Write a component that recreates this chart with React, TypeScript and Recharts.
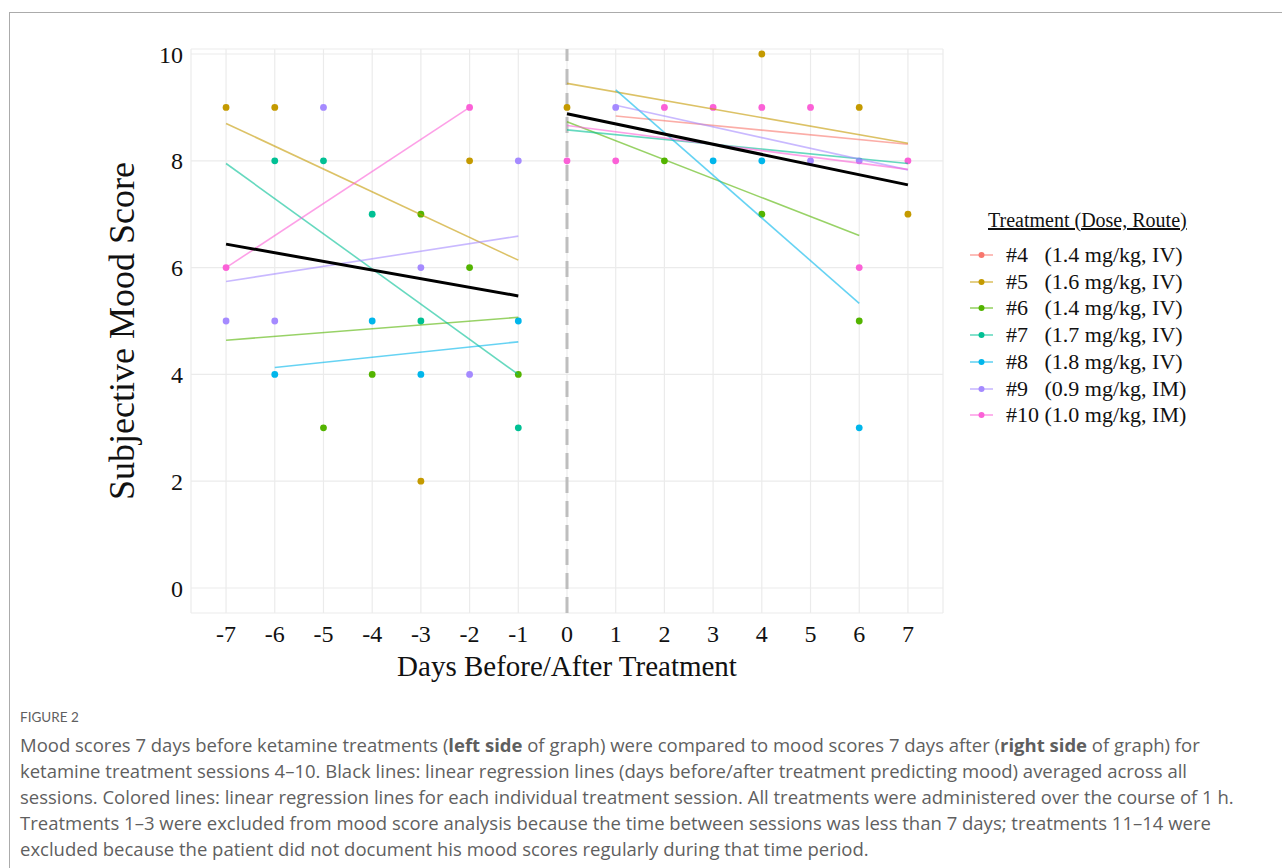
import {
  ComposedChart,
  Scatter,
  XAxis,
  YAxis,
  CartesianGrid,
  ReferenceLine,
  Legend,
  Label,
} from 'recharts';

const TREATMENTS = ['#4', '#5', '#6', '#7', '#8', '#9', '#10'];
const DOSES = [
  '(1.4 mg/kg, IV)',
  '(1.6 mg/kg, IV)',
  '(1.4 mg/kg, IV)',
  '(1.7 mg/kg, IV)',
  '(1.8 mg/kg, IV)',
  '(0.9 mg/kg, IM)',
  '(1.0 mg/kg, IM)',
];
const COLORS = ['#F8766D', '#C49A00', '#53B400', '#00C094', '#00B6EB', '#A58AFF', '#FB61D7'];

// daily mood scores, one list per treatment (before / after)
const PRE_DAYS = [[], [-7, -6, -3, -2], [-5, -4, -3, -2, -1], [-6, -5, -4, -3, -1], [-6, -4, -3, -1], [-7, -6, -5, -3, -2, -1], [-7, -2]];
const PRE_SCORES = [[], [9, 9, 2, 8], [3, 4, 7, 6, 4], [8, 8, 7, 5, 3], [4, 5, 4, 5], [5, 5, 9, 6, 4, 8], [6, 9]];
const POST_DAYS = [[], [0, 4, 6, 7], [2, 4, 6], [], [3, 4, 6], [1, 5, 6], [0, 1, 2, 3, 4, 5, 6, 7]];
const POST_SCORES = [[], [9, 10, 9, 7], [8, 7, 5], [], [8, 8, 3], [9, 8, 8], [8, 8, 9, 9, 9, 9, 6, 8]];

// regression line ends: [first day, last day] and [fitted score there]
const PRE_FIT_DAYS = [[], [-7, -1], [-7, -1], [-7, -1], [-6, -1], [-7, -1], [-7, -2]];
const PRE_FIT_SCORES = [[], [8.7, 6.14], [4.64, 5.07], [7.95, 4.0], [4.13, 4.61], [5.74, 6.59], [6.0, 9.0]];
const POST_FIT_DAYS = [[1, 7], [0, 7], [0, 6], [0, 7], [1, 6], [1, 7], [0, 7]];
const POST_FIT_SCORES = [[8.84, 8.31], [9.45, 8.33], [8.73, 6.6], [8.58, 7.95], [9.33, 5.33], [9.04, 7.83], [8.66, 7.84]];
const MEAN_FIT_DAYS = [[-7, -1], [0, 7]];
const MEAN_FIT_SCORES = [[6.44, 5.47], [8.88, 7.55]];

const X_TICKS = [-7, -6, -5, -4, -3, -2, -1, 0, 1, 2, 3, 4, 5, 6, 7];
const Y_TICKS = [0, 2, 4, 6, 8, 10];

const CAPTION = [
  ['Mood scores 7 days before ketamine treatments (', 'left side', ' of graph) were compared to mood scores 7 days after (', 'right side', ' of graph) for'],
  ['ketamine treatment sessions 4–10. Black lines: linear regression lines (days before/after treatment predicting mood) averaged across all'],
  ['sessions. Colored lines: linear regression lines for each individual treatment session. All treatments were administered over the course of 1 h.'],
  ['Treatments 1–3 were excluded from mood score analysis because the time between sessions was less than 7 days; treatments 11–14 were'],
  ['excluded because the patient did not document his mood scores regularly during that time period.'],
];

const SERIF = '"Liberation Serif", "Times New Roman", serif';

const toPoints = (days: number[], scores: number[]) =>
  days.map((d, i) => ({ day: d, score: scores[i] }));

const dot = (color: string) => (p: any) => <circle cx={p.cx} cy={p.cy} r={3.4} fill={color} />;
const noDot = () => <g />;

function LegendBox() {
  return (
    <div style={{ position: 'relative', width: 280, height: 230, fontFamily: SERIF, color: '#111' }}>
      <div
        style={{
          position: 'absolute',
          left: 28,
          top: 8,
          fontSize: 20,
          lineHeight: '24px',
          textDecoration: 'underline',
          whiteSpace: 'nowrap',
        }}
      >
        Treatment (Dose, Route)
      </div>
      {TREATMENTS.map((t, i) => (
        <div
          key={t}
          style={{
            position: 'absolute',
            left: 10,
            top: 42 + i * 26.7,
            height: 26,
            display: 'flex',
            alignItems: 'center',
            whiteSpace: 'pre',
            fontSize: 22,
          }}
        >
          <svg width={24} height={10}>
            <line x1={0} x2={23} y1={5} y2={5} stroke={COLORS[i]} strokeOpacity={0.6} strokeWidth={1.6} />
            <circle cx={11.5} cy={5} r={3} fill={COLORS[i]} />
          </svg>
          <span style={{ marginLeft: 12 }}>{t + ' '.repeat(t.length === 2 ? 3 : 1) + DOSES[i]}</span>
        </div>
      ))}
    </div>
  );
}

export default function App() {
  const tick = { fontFamily: SERIF, fontSize: 24, fill: '#111' };
  return (
    <div style={{ position: 'absolute', left: 0, top: 0, width: 1282, height: 868, background: '#fff', overflow: 'hidden' }}>
      <div
        style={{
          position: 'absolute',
          left: 9,
          top: 12,
          width: 1290,
          height: 870,
          borderTop: '1.5px solid #ABABAB',
          borderLeft: '1.5px solid #ABABAB',
        }}
      />
      <div style={{ position: 'absolute', left: 0, top: 0 }}>
        <ComposedChart width={1282} height={868} margin={{ top: 49, right: 339, bottom: 185, left: 0 }}>
          <CartesianGrid stroke="#EBEBEB" strokeWidth={1.2} />
          <XAxis
            type="number"
            dataKey="day"
            domain={[-7.72, 7.72]}
            ticks={X_TICKS}
            allowDataOverflow
            axisLine={false}
            tickLine={false}
            tickSize={0}
            tickMargin={12}
            height={70}
            tick={tick}
          >
            <Label
              value="Days Before/After Treatment"
              position="insideBottom"
              offset={7}
              style={{ fontFamily: SERIF, fontSize: 29, fill: '#111' }}
            />
          </XAxis>
          <YAxis
            type="number"
            dataKey="score"
            domain={[-0.468, 10.094]}
            ticks={Y_TICKS}
            allowDataOverflow
            axisLine={false}
            tickLine={false}
            tickSize={0}
            tickMargin={8}
            width={191}
            tick={tick}
          >
            <Label
              value="Subjective Mood Score"
              angle={-90}
              position="insideLeft"
              offset={121}
              style={{ fontFamily: SERIF, fontSize: 36, fill: '#111', textAnchor: 'middle' }}
            />
          </YAxis>
          <ReferenceLine x={0} stroke="#BEBEBE" strokeWidth={3} strokeDasharray="16 8" />
          {TREATMENTS.map((t, i) => (
            <Scatter
              key={'pts' + t}
              name={t}
              data={[...toPoints(PRE_DAYS[i], PRE_SCORES[i]), ...toPoints(POST_DAYS[i], POST_SCORES[i])]}
              shape={dot(COLORS[i])}
              isAnimationActive={false}
            />
          ))}
          {TREATMENTS.map((t, i) =>
            [
              toPoints(PRE_FIT_DAYS[i], PRE_FIT_SCORES[i]),
              toPoints(POST_FIT_DAYS[i], POST_FIT_SCORES[i]),
            ].map((seg, j) =>
              seg.length ? (
                <Scatter
                  key={'fit' + t + j}
                  data={seg}
                  line={{ stroke: COLORS[i], strokeWidth: 1.6, strokeOpacity: 0.6 }}
                  shape={noDot}
                  legendType="none"
                  isAnimationActive={false}
                />
              ) : null
            )
          )}
          {MEAN_FIT_DAYS.map((days, j) => (
            <Scatter
              key={'mean' + j}
              data={toPoints(days, MEAN_FIT_SCORES[j])}
              line={{ stroke: '#000', strokeWidth: 3 }}
              shape={noDot}
              legendType="none"
              isAnimationActive={false}
            />
          ))}
          <Legend
            layout="vertical"
            align="center"
            verticalAlign="middle"
            wrapperStyle={{ left: 960, top: 200, width: 280, height: 230 }}
            content={() => <LegendBox />}
          />
        </ComposedChart>
      </div>
      <div style={{ position: 'absolute', left: 20, top: 709, fontFamily: '"Open Sans", sans-serif', color: '#5f5f5f' }}>
        <div style={{ fontSize: 13.5, lineHeight: '16px', fontFamily: 'Lato, sans-serif' }}>FIGURE 2</div>
        <div style={{ marginTop: 7, fontSize: 18.5, lineHeight: '26px' }}>
          {CAPTION.map((parts, k) => (
            <div key={k} style={{ whiteSpace: 'nowrap' }}>
              {parts.map((s, m) => (m % 2 === 1 ? <b key={m}>{s}</b> : <span key={m}>{s}</span>))}
            </div>
          ))}
        </div>
      </div>
    </div>
  );
}
